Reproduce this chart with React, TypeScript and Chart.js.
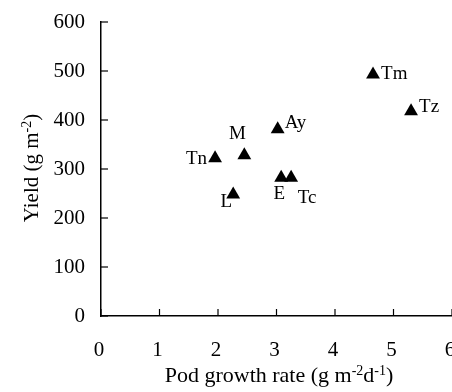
import React, { useEffect, useRef } from 'react';
import { Chart, registerables } from 'chart.js';

Chart.register(...registerables);

const cultivars = ['Tm', 'Tz', 'Ay', 'M', 'Tn', 'E', 'Tc', 'L'];
const podGrowthRate = [4.65, 5.3, 3.02, 2.45, 1.95, 3.08, 3.25, 2.26];
const yieldValues = [493, 418, 381, 328, 322, 282, 282, 248];
const xTicks = [0, 1, 2, 3, 4, 5, 6];
const yTicks = [0, 100, 200, 300, 400, 500, 600];

// label placement (style): [dx, dy, align]
const labelPlacement: [number, number, CanvasTextAlign][] = [
  [8, 0, 'left'],
  [8, -4, 'left'],
  [7, -6, 'left'],
  [-7, -21, 'center'],
  [-8, 1, 'right'],
  [-2, 16, 'center'],
  [16, 20, 'center'],
  [-7, 8, 'center'],
];

const FONT = 'Liberation Serif';

type Seg = { t: string; sup?: boolean };
const xTitle: Seg[] = [{ t: 'Pod growth rate (g m' }, { t: '-2', sup: true }, { t: 'd' }, { t: '-1', sup: true }, { t: ')' }];
const yTitle: Seg[] = [{ t: 'Yield (g m' }, { t: '-2', sup: true }, { t: ')' }];

function drawSegs(ctx: CanvasRenderingContext2D, segs: Seg[], cx: number, baseY: number, size: number) {
  const supSize = 14;
  let total = 0;
  for (const s of segs) {
    ctx.font = `${s.sup ? supSize : size}px "${FONT}"`;
    total += ctx.measureText(s.t).width;
  }
  let x = cx - total / 2;
  ctx.textBaseline = 'alphabetic';
  ctx.textAlign = 'left';
  for (const s of segs) {
    ctx.font = `${s.sup ? supSize : size}px "${FONT}"`;
    ctx.fillText(s.t, x, s.sup ? baseY - 7 : baseY);
    x += ctx.measureText(s.t).width;
  }
}

const decorPlugin = {
  id: 'decor',
  afterDraw(chart: any) {
    const ctx: CanvasRenderingContext2D = chart.ctx;
    const xs = chart.scales.x;
    const ys = chart.scales.y;
    const area = chart.chartArea;
    ctx.save();
    ctx.strokeStyle = '#000';
    ctx.lineWidth = 1.2;
    for (const v of xTicks) {
      const px = xs.getPixelForValue(v);
      ctx.beginPath();
      ctx.moveTo(px, area.bottom);
      ctx.lineTo(px, area.bottom - 7);
      ctx.stroke();
    }
    for (const v of yTicks) {
      const py = ys.getPixelForValue(v);
      ctx.beginPath();
      ctx.moveTo(area.left, py);
      ctx.lineTo(area.left + 7, py);
      ctx.stroke();
    }
    ctx.fillStyle = '#000';
    ctx.font = `19px "${FONT}"`;
    ctx.textBaseline = 'middle';
    const meta = chart.getDatasetMeta(0);
    cultivars.forEach((name, i) => {
      const el = meta.data[i];
      const [dx, dy, align] = labelPlacement[i];
      ctx.textAlign = align;
      ctx.fillText(name, el.x + dx, el.y + dy);
    });
    drawSegs(ctx, xTitle, 279, 382, 22);
    ctx.translate(38, 168);
    ctx.rotate(-Math.PI / 2);
    drawSegs(ctx, yTitle, 0, 0, 21);
    ctx.restore();
  },
};

export default function App() {
  const ref = useRef<HTMLCanvasElement>(null);
  useEffect(() => {
    document.body.style.margin = '0';
    Chart.defaults.font.family = FONT;
    Chart.defaults.color = '#000';
    const tickFont = { family: FONT, size: 21 };
    const chart = new Chart(ref.current as HTMLCanvasElement, {
      type: 'scatter',
      data: {
        datasets: [
          {
            data: podGrowthRate.map((x, i) => ({ x, y: yieldValues[i] })),
            pointStyle: 'triangle',
            pointRadius: 8,
            pointHoverRadius: 8,
            backgroundColor: '#000',
            borderColor: '#000',
            borderWidth: 0,
          },
        ],
      },
      options: {
        responsive: false,
        animation: false,
        layout: { autoPadding: false, padding: { top: 22, right: 0, left: 0, bottom: 0 } },
        plugins: { legend: { display: false }, tooltip: { enabled: false } },
        scales: {
          x: {
            type: 'linear',
            min: 0,
            max: 6,
            afterBuildTicks: (s: any) => { s.ticks = xTicks.map((v) => ({ value: v })); },
            ticks: { padding: 22, labelOffset: -2, color: '#000', font: tickFont, maxRotation: 0 },
            grid: { drawOnChartArea: false, drawTicks: false, color: '#000' },
            border: { color: '#000', width: 1.5 },
            afterFit: (s: any) => { s.height = 76; s.paddingLeft = 0; s.paddingRight = 0; },
          },
          y: {
            type: 'linear',
            min: 0,
            max: 600,
            afterBuildTicks: (s: any) => { s.ticks = yTicks.map((v) => ({ value: v })); },
            ticks: { padding: 16, color: '#000', font: tickFont },
            grid: { drawOnChartArea: false, drawTicks: false, color: '#000' },
            border: { color: '#000', width: 1.5 },
            afterFit: (s: any) => { s.width = 101; s.paddingTop = 0; s.paddingBottom = 0; },
          },
        },
      },
      plugins: [decorPlugin],
    });
    return () => chart.destroy();
  }, []);
  return (
    <div style={{ width: 452, height: 392, background: '#fff' }}>
      <canvas ref={ref} width={452} height={392} />
    </div>
  );
}
